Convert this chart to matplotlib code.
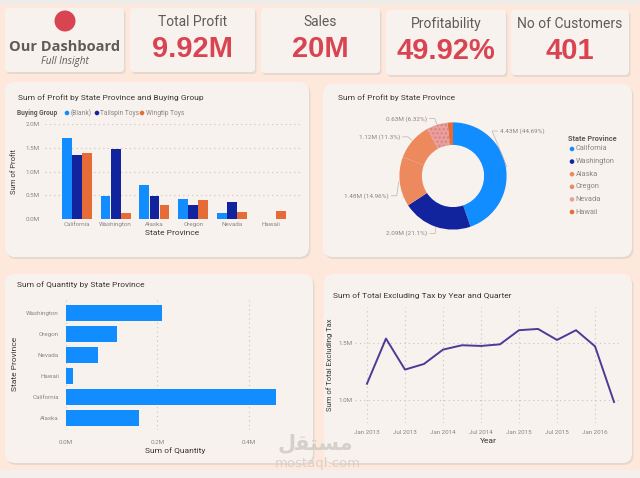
import numpy as np
import matplotlib.pyplot as plt
from matplotlib.patches import FancyBboxPatch, Circle, Rectangle

plt.rcParams['font.family'] = ['Roboto', 'DejaVu Sans']

# ---- data ----
kpi_titles = ["Total Profit", "Sales", "Profitability", "No of Customers"]
kpi_values = ["9.92M", "20M", "49.92%", "401"]

states = ["California", "Washington", "Alaska", "Oregon", "Nevada", "Hawaii"]
groups = ["(Blank)", "Tailspin Toys", "Wingtip Toys"]
profit_blank = [1.70, 0.48, 0.71, 0.42, 0.12, 0.0]
profit_tailspin = [1.34, 1.48, 0.48, 0.30, 0.36, 0.0]
profit_wingtip = [1.39, 0.13, 0.29, 0.40, 0.15, 0.17]

state_profit = [4.43, 2.09, 1.48, 1.12, 0.63, 0.16]
state_profit_lbl = ["4.43M (44.69%)", "2.09M (21.1%)", "1.48M (14.96%)",
                    "1.12M (11.3%)", "0.63M (6.32%)", ""]

qty_states = ["Alaska", "California", "Hawaii", "Nevada", "Oregon", "Washington"]
qty = [0.159, 0.461, 0.015, 0.070, 0.112, 0.210]

quarters = ["2013 Q1", "2013 Q2", "2013 Q3", "2013 Q4", "2014 Q1", "2014 Q2", "2014 Q3",
            "2014 Q4", "2015 Q1", "2015 Q2", "2015 Q3", "2015 Q4", "2016 Q1", "2016 Q2"]
tick_labels = ["Jan 2013", "Jul 2013", "Jan 2014", "Jul 2014", "Jan 2015", "Jul 2015", "Jan 2016"]
sales_ex_tax = [1.142, 1.535, 1.265, 1.314, 1.439, 1.477, 1.471, 1.485,
                1.608, 1.619, 1.523, 1.608, 1.468, 0.983]

# ---- colours ----
BG = '#FDE8DB'
CARD = '#F8F2EF'
RED = '#D94452'
GREY = '#5F5B58'
TICK = '#8A8683'
GRID = '#C9C4C0'
group_colors = ['#118DFF', '#12239E', '#E66C37']
donut_colors = ['#118DFF', '#12239E', '#EC8A5E', '#EC8A5E', '#E9A09D', '#E66C37']
LINE = '#4A3C96'

W, H = 640, 478
fig = plt.figure(figsize=(6.4, 4.78), dpi=100, facecolor=BG)
bg = fig.add_axes([0, 0, 1, 1])
bg.set_xlim(0, W)
bg.set_ylim(H, 0)
bg.axis('off')

bg.add_patch(Rectangle((0, 0), W, 5, fc='#EFEBE8', ec='none'))
bg.add_patch(Rectangle((0, 470), W, 8, fc='#F4EFEC', ec='none'))


def pax(x0, y0, x1, y1):
    a = fig.add_axes([x0 / W, 1 - y1 / H, (x1 - x0) / W, (y1 - y0) / H])
    a.set_facecolor('none')
    return a


def card(x0, y0, x1, y1, r=6):
    bg.add_patch(FancyBboxPatch((x0 + 1.5, y0 + 2), x1 - x0, y1 - y0,
                                boxstyle=f"round,pad=0,rounding_size={r}",
                                fc='#DCD2CC', ec='none', alpha=0.7))
    bg.add_patch(FancyBboxPatch((x0, y0), x1 - x0, y1 - y0,
                                boxstyle=f"round,pad=0,rounding_size={r}",
                                fc=CARD, ec='none'))


def style(a):
    for s in a.spines.values():
        s.set_visible(False)
    a.tick_params(length=0, labelsize=4.5, labelcolor=TICK)


# ---- header cards ----
card(5, 8, 124, 72, r=4)
bg.add_patch(Circle((65, 21), 10.5, fc=RED, ec='none'))
bg.text(64.5, 47, "Our Dashboard", ha='center', va='center', fontsize=10.5,
        fontweight='bold', color=GREY, family=['Open Sans', 'DejaVu Sans'])
bg.text(64.5, 61, "Full Insight", ha='center', va='center', fontsize=7.2,
        style='italic', color=GREY, family=['Open Sans', 'DejaVu Sans'])

kpi_boxes = [(130, 8, 255, 72), (261, 8, 380, 73), (386, 10, 506, 75), (511, 10, 629, 75)]
for (x0, y0, x1, y1), t, v in zip(kpi_boxes, kpi_titles, kpi_values):
    card(x0, y0, x1, y1, r=4)
    xc = (x0 + x1) / 2
    bg.text(xc, y0 + 14, t, ha='center', va='center', fontsize=10, color=GREY)
    bg.text(xc, y0 + 41, v, ha='center', va='center', fontsize=21, fontweight='bold',
            color=RED, family=['Liberation Sans', 'DejaVu Sans'])

# ---- panel cards ----
card(5, 82, 309, 257, r=10)
card(323, 84, 632, 257, r=10)
card(5, 274, 313, 463, r=10)
card(324, 274, 632, 463, r=10)

# ---- profit by state & buying group ----
bg.text(18, 98, "Sum of Profit by State Province and Buying Group", fontsize=6,
        color='#3A3633', va='center')
bg.text(17, 113, "Buying Group", fontsize=4.8, fontweight='bold', color=GREY, va='center')
for lx, g, c in zip([67, 97, 142], groups, group_colors):
    bg.add_patch(Circle((lx, 113), 2.3, fc=c, ec='none'))
    bg.text(lx + 3.5, 113, g, fontsize=4.8, color=TICK, va='center')

ax1 = pax(45, 124, 300, 219)
x = np.arange(len(states))
w = 0.26
for off, vals, c in zip([-w, 0, w], [profit_blank, profit_tailspin, profit_wingtip], group_colors):
    ax1.bar(x + off, vals, w * 0.97, color=c, zorder=3)
ax1.set_xlim(-0.82, 5.75)
ax1.set_ylim(0, 2.0)
ax1.set_yticks([0, 0.5, 1.0, 1.5, 2.0])
ax1.set_yticklabels(["0.0M", "0.5M", "1.0M", "1.5M", "2.0M"])
ax1.set_xticks(x)
ax1.set_xticklabels(states)
ax1.grid(axis='y', linestyle=(0, (1, 3)), color=GRID, lw=0.8)
style(ax1)
ax1.tick_params(axis='y', pad=4)
ax1.tick_params(axis='x', pad=2)
ax1.set_xlabel("State Province", fontsize=6, color='#3A3633', labelpad=2)
ax1.set_ylabel("Sum of Profit", fontsize=5.5, color='#3A3633', labelpad=6)

# ---- donut ----
bg.text(338, 98, "Sum of Profit by State Province", fontsize=6, color='#3A3633', va='center')
ax2 = pax(386, 109, 520, 243)
wedges, _ = ax2.pie(state_profit, colors=donut_colors, startangle=90, counterclock=False,
                    wedgeprops=dict(width=0.42, linewidth=0))
wedges[4].set_hatch('....')
wedges[4].set_edgecolor('#D9807F')
wedges[4].set_linewidth(0)
ax2.set_xlim(-1.25, 1.25)
ax2.set_ylim(-1.25, 1.25)
lbl_pos = [(0.88, 0.84), (-0.48, -1.07), (-1.2, -0.37), (-0.99, 0.73), (-0.49, 1.07)]
for i, (tx, ty) in enumerate(lbl_pos):
    ang = np.deg2rad(90 - 360 * (sum(state_profit[:i]) + state_profit[i] / 2) / sum(state_profit))
    ex, ey = 1.02 * np.cos(ang), 1.02 * np.sin(ang)
    ha = 'left' if tx > 0 else 'right'
    sx = tx - 0.05 if tx > 0 else tx + 0.05
    ax2.plot([ex, sx - (0.1 if tx > 0 else -0.1), sx], [ey, ty, ty], color='#B8B3AF', lw=0.5)
    ax2.text(tx, ty, state_profit_lbl[i], ha=ha, va='center', fontsize=4.6, color=TICK)

bg.text(568, 139, "State Province", fontsize=5.3, fontweight='bold', color=GREY, va='center')
for i, (s, c) in enumerate(zip(states, donut_colors)):
    yy = 149 + 12.6 * i
    bg.add_patch(Circle((572, yy), 2.3, fc=c, ec='none'))
    bg.text(575.5, yy, s, fontsize=5.3, color=TICK, va='center')

# ---- quantity by state ----
bg.text(17, 285, "Sum of Quantity by State Province", fontsize=6, color='#3A3633', va='center')
ax3 = pax(66, 297, 285, 430)
y = np.arange(len(qty_states))
ax3.barh(y, qty, 0.76, color='#118DFF', zorder=3)
ax3.set_ylim(-0.57, 5.76)
ax3.set_xlim(0, 0.48)
ax3.set_yticks(y)
ax3.set_yticklabels(qty_states)
ax3.set_xticks([0, 0.2, 0.4])
ax3.set_xticklabels(["0.0M", "0.2M", "0.4M"])
ax3.grid(axis='x', linestyle=(0, (1, 3)), color=GRID, lw=0.8)
style(ax3)
ax3.tick_params(axis='y', pad=5)
ax3.tick_params(axis='x', pad=7)
ax3.set_xlabel("Sum of Quantity", fontsize=6, color='#3A3633', labelpad=2)
ax3.set_ylabel("State Province", fontsize=6, color='#3A3633', labelpad=6)

# ---- total excluding tax ----
bg.text(333, 296, "Sum of Total Excluding Tax by Year and Quarter", fontsize=6,
        color='#3A3633', va='center')
ax4 = pax(355, 307, 622, 423)
xq = np.arange(len(quarters))
ax4.plot(xq, sales_ex_tax, color=LINE, lw=1.4, zorder=3)
ax4.set_xlim(-0.63, 13.42)
ax4.set_ylim(0.80, 1.81)
ax4.set_xticks(xq[::2])
ax4.set_xticklabels(tick_labels)
ax4.set_yticks([1.0, 1.5])
ax4.set_yticklabels(["1.0M", "1.5M"])
ax4.grid(True, linestyle=(0, (1, 3)), color=GRID, lw=0.8)
style(ax4)
ax4.tick_params(axis='x', pad=5)
ax4.tick_params(axis='y', pad=2)
ax4.set_xlabel("Year", fontsize=6, color='#3A3633', labelpad=2)
ax4.set_ylabel("Sum of Total Excluding Tax", fontsize=5.5, color='#3A3633', labelpad=4)

# ---- watermark ----
bg.text(315, 443, "\ufedd\ufed8\ufe98\ufeb4\ufee3", ha='center', va='center', fontsize=15,
        fontweight='bold', color='#CFCAC6', alpha=0.85, family=['DejaVu Sans'], zorder=10)
bg.text(318, 464, "mostaql.com", ha='center', va='center', fontsize=9.5,
        color='#D2CDC9', alpha=0.85, family=['DejaVu Sans'], zorder=10)

fig.savefig('out.png', dpi=100, facecolor=BG)
